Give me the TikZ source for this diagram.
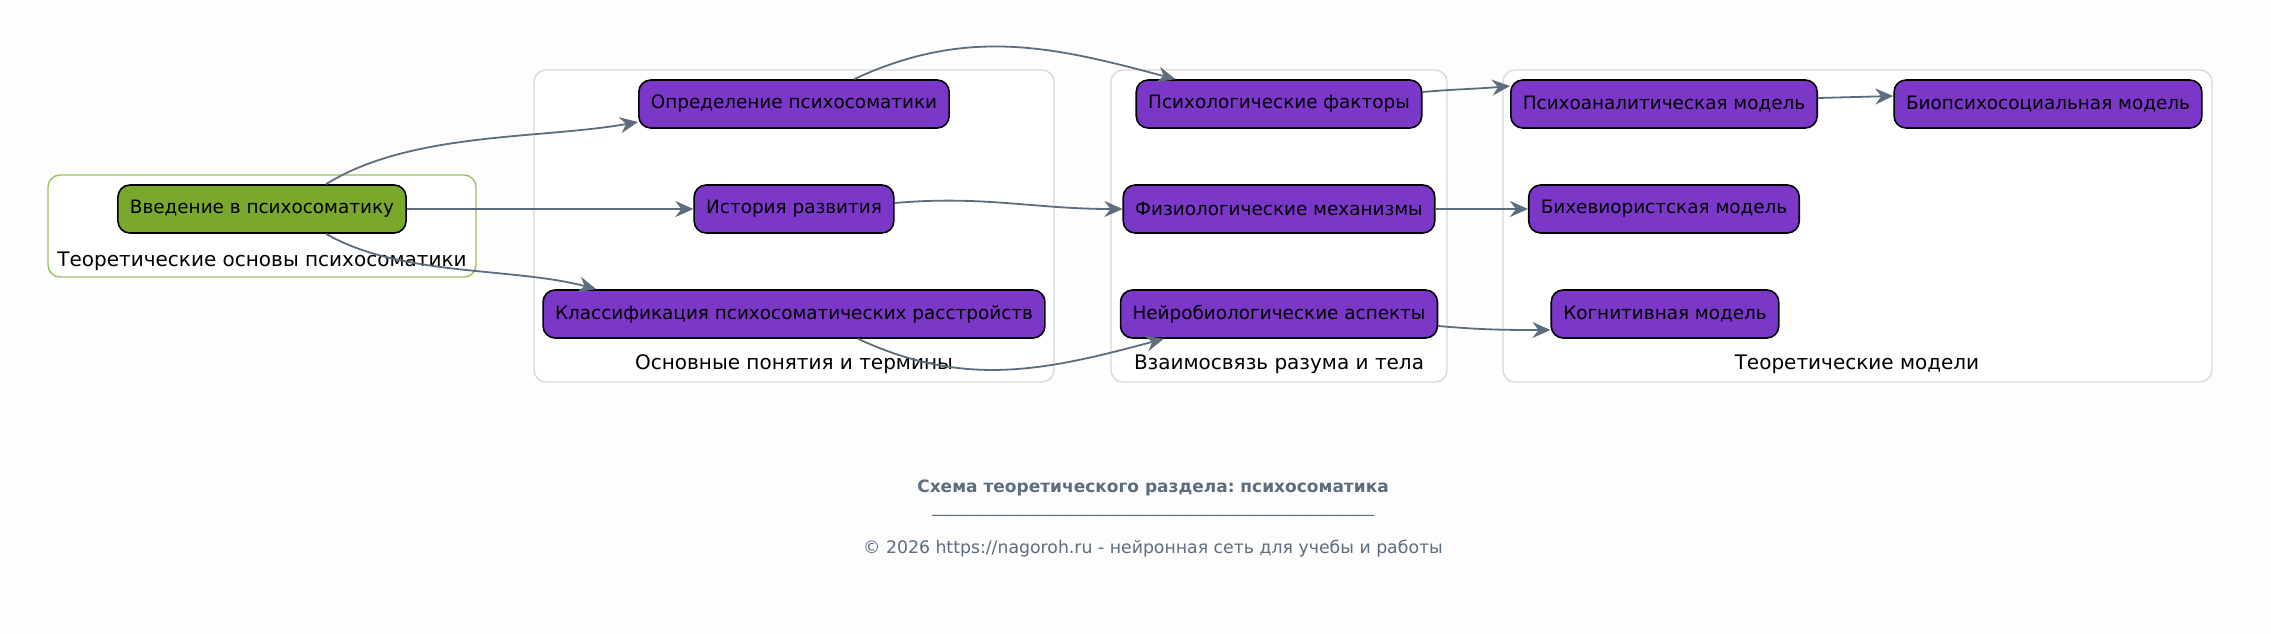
\documentclass[tikz,border=0pt]{standalone}
\usepackage{fontspec}
\setmainfont{DejaVu Sans}
\usetikzlibrary{arrows.meta}
\definecolor{purp}{HTML}{7A37C8}
\definecolor{leaf}{HTML}{7AA82C}
\definecolor{leafline}{HTML}{9CC35E}
\definecolor{boxline}{HTML}{D9D9D9}
\definecolor{slate}{HTML}{5D6D7E}
\definecolor{paper}{HTML}{FDFDFD}
\frenchspacing

\begin{document}
\begin{tikzpicture}[x=0.5pt, y=-0.5pt,
	topic/.style={draw=black, line width=0.8pt, fill=purp, rounded corners=6pt, minimum height=24pt, inner xsep=6pt, font=\fontsize{9.2}{11}\selectfont},
	start/.style={topic, fill=leaf},
	cluster/.style={draw=boxline, line width=0.7pt, fill=white, rounded corners=6pt},
	clabel/.style={font=\fontsize{10}{12}\selectfont},
	link/.style={draw=slate, line width=0.9pt, -{Stealth[length=9pt, width=8pt, inset=3pt]}}
	]
	\fill[paper] (0,0) rectangle (2271,633);
	\useasboundingbox (0,0) rectangle (2271,633);
	\draw[cluster, draw=leafline] (48,175) rectangle (476,277);
	\draw[cluster] (534,70) rectangle (1054,382);
	\draw[cluster] (1111,70) rectangle (1447,382);
	\draw[cluster] (1503,70) rectangle (2212,382);
	\node[clabel] (lab1) at (262,261) {Теоретические основы психосоматики};
	\node[clabel] (lab2) at (794,364) {Основные понятия и термины};
	\node[clabel] (lab3) at (1279,364) {Взаимосвязь разума и тела};
	\node[clabel] (lab4) at (1857,364) {Теоретические модели};
	\node[start] (intro) at (262,209) {Введение в психосоматику};
	\node[topic] (defn) at (794,104) {Определение психосоматики};
	\node[topic] (hist) at (794,209) {История развития};
	\node[topic] (classif) at (794,314) {Классификация психосоматических расстройств};
	\node[topic] (psyf) at (1279,104) {Психологические факторы};
	\node[topic] (phys) at (1279,209) {Физиологические механизмы};
	\node[topic] (neuro) at (1279,314) {Нейробиологические аспекты};
	\node[topic] (psyan) at (1664,104) {Психоаналитическая модель};
	\node[topic] (biops) at (2048,104) {Биопсихосоциальная модель};
	\node[topic] (behav) at (1664,209) {Бихевиористская модель};
	\node[topic] (cogn) at (1665,314) {Когнитивная модель};
	\draw[link] ([xshift=32pt]intro.north) to[out=32,in=190,looseness=0.8] ([yshift=-9pt]defn.west);
	\draw[link] (intro.east) -- (hist.west);
	\draw[link] ([xshift=32pt]intro.south) to[out=-30,in=165,looseness=0.8] ([xshift=27pt]classif.north west);
	\draw[link] ([xshift=30pt]defn.north) to[out=25,in=165] ([xshift=20pt]psyf.north west);
	\draw[link] ([yshift=3pt]hist.east) to[out=5,in=180] (phys.west);
	\draw[link] ([xshift=32pt]classif.south) to[out=-25,in=195] ([xshift=22pt]neuro.south west);
	\draw[link] ([yshift=6pt]psyf.east) to[out=5,in=185] ([yshift=9pt]psyan.west);
	\draw[link] (phys.east) -- (behav.west);
	\draw[link] ([yshift=-6pt]neuro.east) to[out=-5,in=180] ([yshift=-8pt]cogn.west);
	\draw[link] ([yshift=3pt]psyan.east) -- ([yshift=4pt]biops.west);
	\node[font=\fontsize{8.5}{10}\selectfont\bfseries, text=slate] (title) at (1153,488) {Схема теоретического раздела: психосоматика};
	\node[font=\fontsize{8.5}{10}\selectfont, text=slate] (rule) at (1153,514) {\_\_\_\_\_\_\_\_\_\_\_\_\_\_\_\_\_\_\_\_\_\_\_\_\_\_\_\_\_\_\_\_\_\_\_\_\_\_\_\_\_\_\_\_\_\_\_\_\_\_\_\_};
	\node[font=\fontsize{8.65}{10}\selectfont, text=slate] (copy) at (1153,549) {© 2026 https://nagoroh.ru - нейронная сеть для учебы и работы};
\end{tikzpicture}
\end{document}
